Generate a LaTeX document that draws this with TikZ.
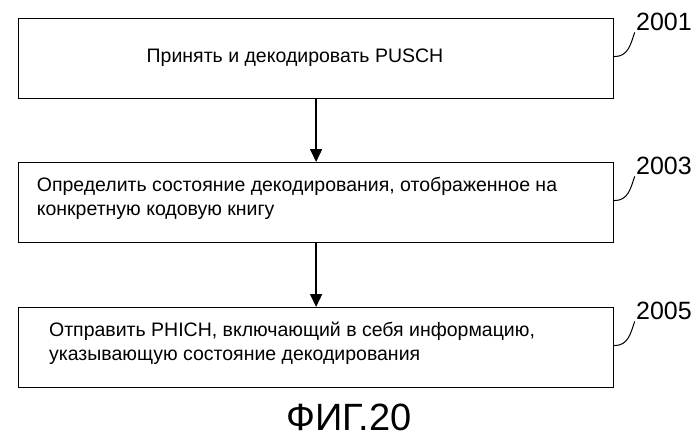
\documentclass[tikz,border=0pt]{standalone}
\usepackage{fontspec}
\setmainfont{Liberation Sans}
\usetikzlibrary{arrows.meta}
\begin{document}
\begin{tikzpicture}[x=1pt,y=-1pt,
  stepbox/.style={draw,line width=1.2pt,minimum width=595pt,minimum height=80pt,anchor=north west,inner sep=0pt},
  txt/.style={font=\fontsize{19.5}{24}\selectfont,align=left},
  lbl/.style={font=\fontsize{25}{27}\selectfont},
  arr/.style={line width=1.5pt,-{Triangle[length=13pt,width=12pt]}}]
\useasboundingbox (0,0) rectangle (699,440);
\node[stepbox] (b1) at (18,18) {};
\node[stepbox] (b2) at (18,162) {};
\node[stepbox] (b3) at (18,307) {};
\node[txt] at (295,58) {Принять и декодировать PUSCH};
\node[txt] at (297,198) {Определить состояние декодирования, отображенное на\\конкретную кодовую книгу};
\node[txt] at (292,343) {Отправить PHICH, включающий в себя информацию,\\указывающую состояние декодирования};
\draw[arr] (b1.south) -- (b2.north);
\draw[arr] (b2.south) -- (b3.north);
\node[lbl] (l1) at (664,22) {2001};
\node[lbl] (l2) at (664,166) {2003};
\node[lbl] (l3) at (664,311) {2005};
\foreach \b/\l in {b1/l1,b2/l2,b3/l3}{
  \draw[line width=1pt] (\b.east) ++(0,-2) .. controls +(14,0) and +(-4,12) .. ([xshift=2pt,yshift=2pt]\l.south west);
}
\node[font=\fontsize{38}{40}\selectfont] (cap) at (349,417) {ФИГ.20};
\end{tikzpicture}
\end{document}
